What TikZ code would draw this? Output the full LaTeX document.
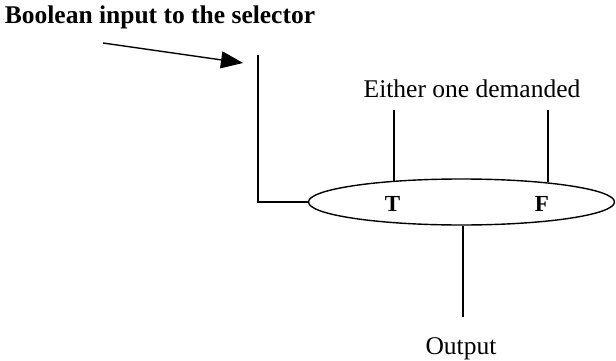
\documentclass[tikz,border=0pt]{standalone}
\usepackage{fontspec}
\setmainfont{Liberation Serif}
\usetikzlibrary{arrows.meta,shapes.geometric}
\begin{document}
\begin{tikzpicture}[x=1pt,y=-1pt,
  wire/.style={line width=1.4pt},
  lbl/.style={inner sep=0pt,font=\fontsize{25.5}{30}\selectfont},
  blbl/.style={inner sep=0pt,font=\fontsize{25.5}{30}\selectfont\bfseries},
  tf/.style={inner sep=0pt,font=\fontsize{23}{26}\selectfont\bfseries}]
\useasboundingbox (0,0) rectangle (616,361);
\node[blbl,anchor=base] (title) at (160,24) {Boolean input to the selector};
\node[draw,ellipse,wire,minimum width=306pt,minimum height=46pt,inner sep=0pt] (sel) at (461.5,202) {};
\node[tf,anchor=base] (T) at (392.5,211) {T};
\node[tf,anchor=base] (F) at (542,211) {F};
\node[lbl,anchor=base] (either) at (472,97) {Either one demanded};
\node[lbl,anchor=base] (out) at (461,354) {Output};
\coordinate (as) at (103,43);
\coordinate (ae) at (243,63);
\coordinate (btop) at (258,55);
\coordinate (tt) at (394,110);
\coordinate (ft) at (548,110);
\coordinate (ob) at (463,317);
\draw[wire,-{Triangle[length=22pt,width=17pt]}] (as) -- (ae);
\draw[wire] (btop) |- (sel.west);
\draw[wire] (tt) -- (394,181);
\draw[wire] (ft) -- (548,182);
\draw[wire] (sel.south -| ob) -- (ob);
\end{tikzpicture}
\end{document}
